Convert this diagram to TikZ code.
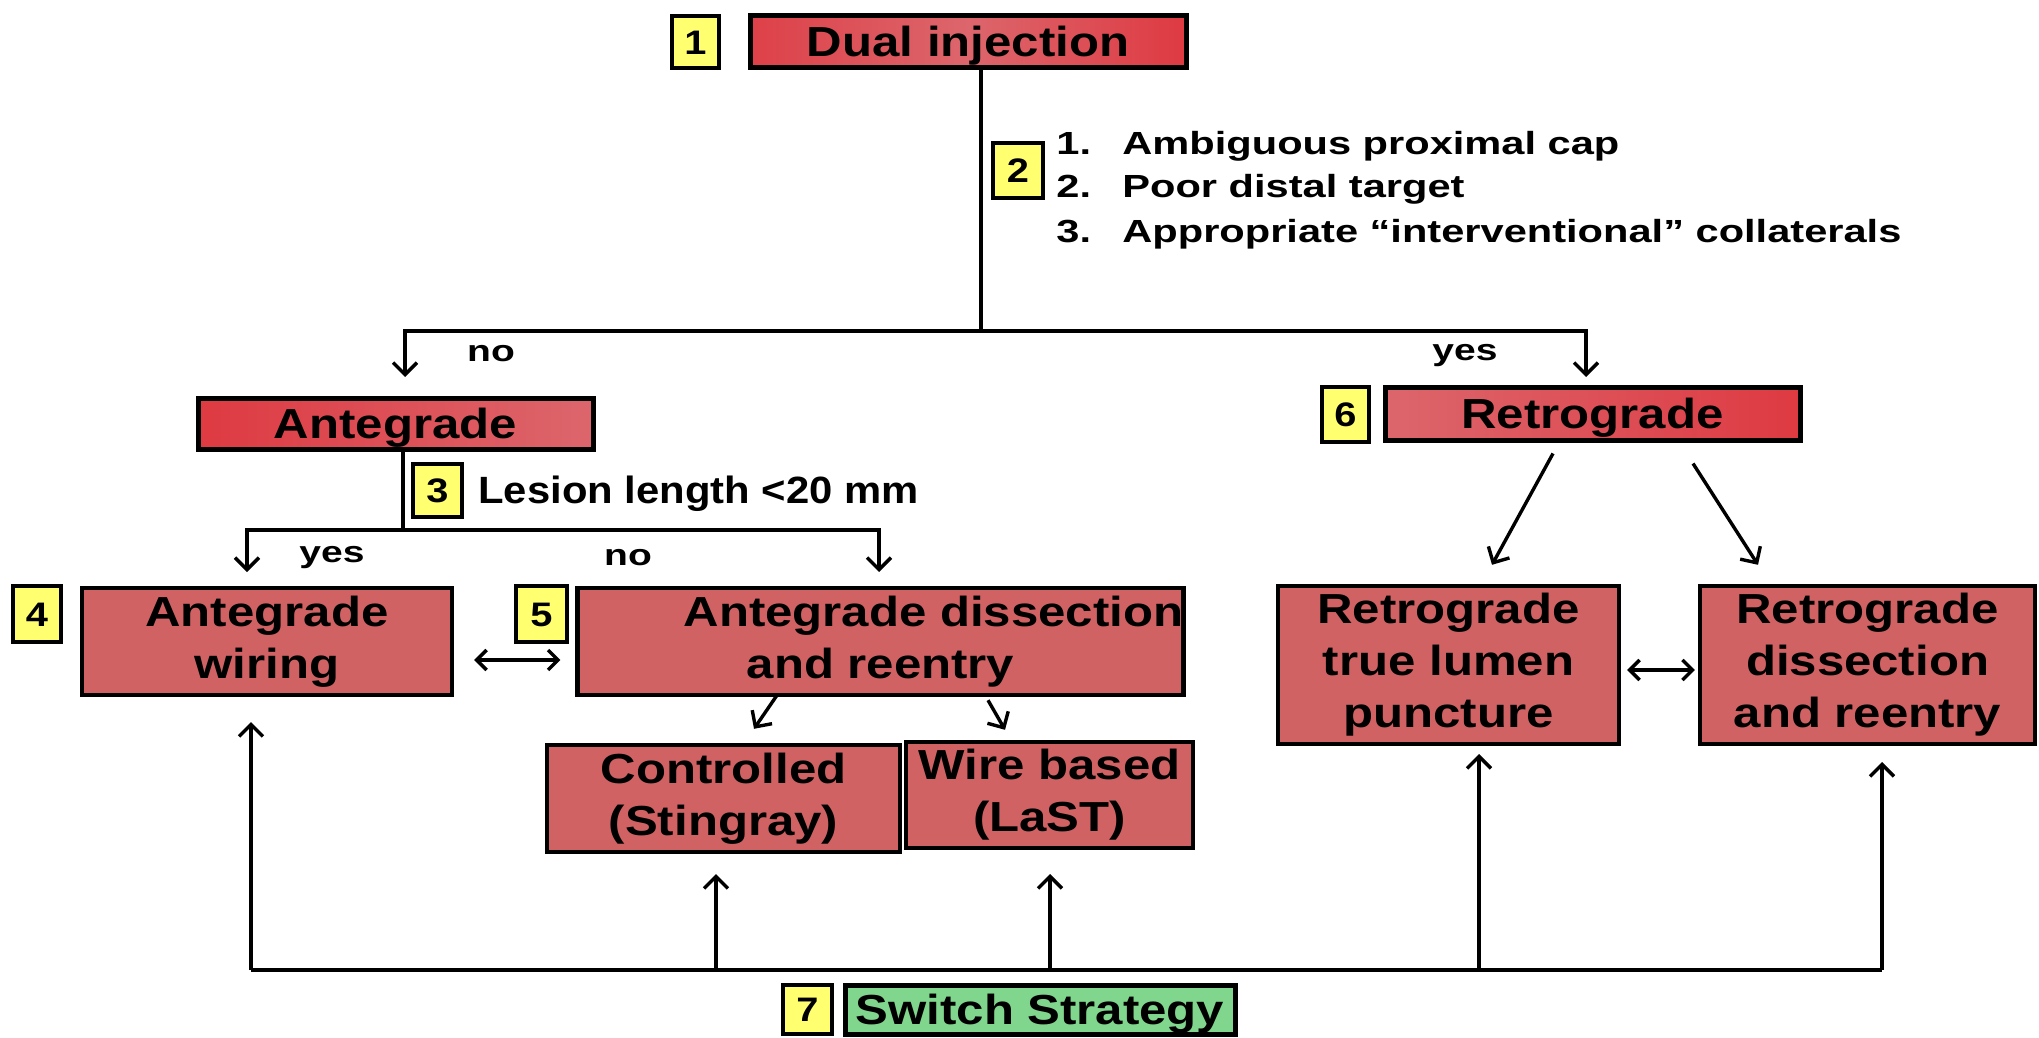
\documentclass[tikz,border=0pt]{standalone}
\usepackage{fontspec}
\setmainfont{Liberation Sans}[FakeStretch=1.17]
\newfontfamily\listfont{Liberation Sans}[FakeStretch=1.3]
\newfontfamily\lesionfont{Liberation Sans}[FakeStretch=1.1]
\usetikzlibrary{arrows.meta}
\definecolor{boxred}{RGB}{208,98,100}
\definecolor{deepred}{RGB}{222,58,66}
\definecolor{pinkred}{RGB}{220,102,108}
\definecolor{ybg}{RGB}{255,255,112}
\definecolor{gbg}{RGB}{128,214,140}
\begin{document}
\begin{tikzpicture}[x=0.5pt,y=-0.5pt,
  boxtxt/.style={font=\bfseries\fontsize{21}{26}\selectfont, align=center},
  oneline/.style={text height=15pt, text depth=0pt},
  topbox/.style={boxtxt, oneline, draw=black, line width=2.5pt, inner sep=0pt},
  lowred/.style={boxtxt, draw=black, line width=2.2pt, fill=boxred, inner sep=0pt},
  ybox/.style={text height=12.2pt, text depth=0pt, draw=black, line width=2.2pt, fill=ybg, inner sep=0pt, font=\bfseries\fontsize{17}{17}\selectfont},
  greenbox/.style={boxtxt, oneline, draw=black, line width=2.5pt, fill=gbg, inner sep=0pt},
  listtxt/.style={font=\listfont\bfseries\fontsize{16}{16}\selectfont, inner sep=0pt},
  lbl/.style={font=\listfont\bfseries\fontsize{15}{15}\selectfont, inner sep=0pt},
  lesion/.style={font=\lesionfont\bfseries\fontsize{19}{19}\selectfont, inner sep=0pt},
  conn/.style={line width=1.7pt, draw=black},
  arr/.style={conn, -{Straight Barb[length=6pt,width=12pt,line width=1.7pt]}},
  darr/.style={conn, {Straight Barb[length=5pt,width=10pt,line width=1.7pt]}-{Straight Barb[length=5pt,width=10pt,line width=1.7pt]}}
]
\useasboundingbox (0,0) rectangle (2039,1038);

% top
\node[topbox, left color=deepred!85!pinkred, right color=deepred, middle color=pinkred,
      minimum width=218pt, minimum height=26pt] (dual) at (968,42) {Dual injection};
\node[ybox, minimum width=23.5pt, minimum height=26pt] (n1) at (695.5,42) {1};
\node[ybox, minimum width=25pt, minimum height=27.5pt] (n2) at (1018,170.5) {2};

\node[listtxt, anchor=base west] (l1n) at (1056,155) {1.};
\node[listtxt, anchor=base west] (l1) at (1122,155) {Ambiguous proximal cap};
\node[listtxt, anchor=base west] (l2n) at (1056,198) {2.};
\node[listtxt, anchor=base west] (l2) at (1122,198) {Poor distal target};
\node[listtxt, anchor=base west] (l3n) at (1056,242) {3.};
\node[listtxt, anchor=base west] (l3) at (1122,242) {Appropriate “interventional” collaterals};

\coordinate (j1) at (981,331);
\coordinate (noTip) at (405,377);
\coordinate (yesTip) at (1586,377);
\draw[conn] (dual.south -| j1) -- (j1);
\draw[arr] (j1) -| (noTip);
\draw[arr] (j1) -| (yesTip);
\node[lbl] (no1) at (491,354) {no};
\node[lbl] (yes1) at (1465,356) {yes};

% second level
\node[topbox, left color=deepred, right color=pinkred,
      minimum width=197.5pt, minimum height=25.5pt] (ante) at (395.5,423.5) {Antegrade};
\node[topbox, left color=pinkred, right color=deepred,
      minimum width=207.5pt, minimum height=26.5pt] (retro) at (1592.5,413.5) {Retrograde};
\node[ybox, minimum width=23.5pt, minimum height=27.5pt] (n6) at (1345.5,414.5) {6};

\coordinate (j2) at (403,530);
\coordinate (yesTip2) at (247,572);
\coordinate (noTip2) at (879,572);
\draw[conn] (ante.south -| j2) -- (j2);
\draw[arr] (j2) -| (yesTip2);
\draw[arr] (j2) -| (noTip2);
\node[ybox, minimum width=24.5pt, minimum height=26.5pt] (n3) at (437.5,490.5) {3};
\node[lesion, anchor=base west] (les) at (478,503) {Lesion length <20 mm};
\node[lbl] (yes2) at (332,558) {yes};
\node[lbl] (no2) at (628,558) {no};

% third level
\node[ybox, minimum width=24pt, minimum height=28pt] (n4) at (37,614) {4};
\node[lowred, minimum width=185pt, minimum height=53.5pt] (wiring) at (267,641.5) {Antegrade\\wiring};
\node[ybox, minimum width=25.5pt, minimum height=28pt] (n5) at (541.5,614) {5};
\node[lowred, minimum width=302.5pt, minimum height=53.5pt] (diss) at (880.5,641.5) {\hspace*{53pt}Antegrade dissection\\and reentry};
\draw[darr] ([xshift=10pt,yshift=-9.25pt]wiring.east) -- ([xshift=-7.5pt,yshift=-9.25pt]diss.west);

\node[lowred, minimum width=176.5pt, minimum height=53.5pt] (ctrl) at (723.5,798.5) {Controlled\\(Stingray)};
\node[lowred, minimum width=143.5pt, minimum height=53pt] (wire) at (1049.5,795) {Wire based\\(LaST)};
\draw[arr] ([xshift=-51.75pt,yshift=1pt]diss.south) -- ([xshift=15.25pt,yshift=7pt]ctrl.north);
\draw[arr] ([xshift=53.75pt,yshift=-1.5pt]diss.south) -- ([xshift=-22.25pt,yshift=5pt]wire.north);

\node[lowred, minimum width=170.5pt, minimum height=79pt] (rtl) at (1448.5,665) {Retrograde\\true lumen\\puncture};
\node[lowred, minimum width=167.5pt, minimum height=79pt] (rdr) at (1867.5,665) {Retrograde\\dissection\\and reentry};
\draw[arr] ([xshift=-19.75pt,yshift=-5.5pt]retro.south) -- ([xshift=21.75pt,yshift=9.5pt]rtl.north);
\draw[arr] ([xshift=50.25pt,yshift=-10.5pt]retro.south) -- ([xshift=-54.75pt,yshift=9.5pt]rdr.north);
\draw[darr] ([xshift=3pt,yshift=-2.5pt]rtl.east) -- ([xshift=-1.5pt,yshift=-2.5pt]rdr.west);

% bottom
\coordinate (b1) at (251,970);
\coordinate (b2) at (716,970);
\coordinate (b3) at (1050,970);
\coordinate (b4) at (1479,970);
\coordinate (b5) at (1882,970);
\coordinate (t1) at (251,722);
\coordinate (t2) at (716,874);
\coordinate (t3) at (1050,874);
\coordinate (t4) at (1479,754);
\coordinate (t5) at (1882,762);
\draw[conn] (b1) -- (b5);
\draw[arr] (b1) -- (t1);
\draw[arr] (b2) -- (t2);
\draw[arr] (b3) -- (t3);
\draw[arr] (b4) -- (t4);
\draw[arr] (b5) -- (t5);

\node[ybox, minimum width=24.5pt, minimum height=24.5pt] (n7) at (807.5,1009.5) {7};
\node[greenbox, minimum width=195pt, minimum height=24.5pt] (switch) at (1040,1009.5) {Switch Strategy};
\end{tikzpicture}
\end{document}
